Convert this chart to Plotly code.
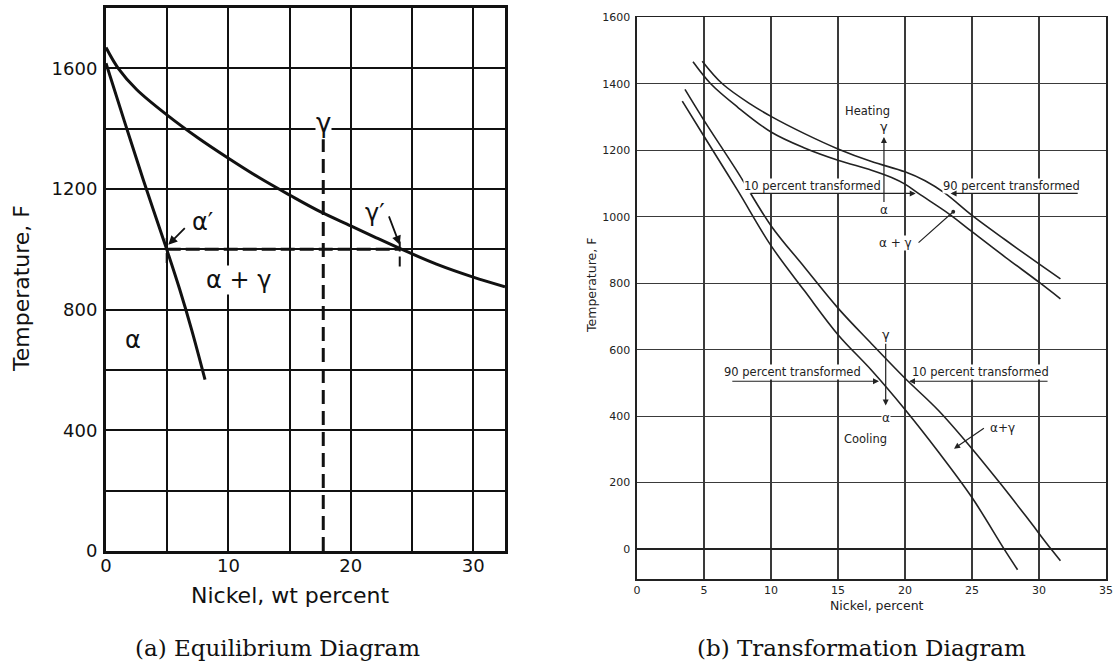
import plotly.graph_objects as go

# ---------------- data: (a) equilibrium diagram ----------------
eq_gamma_ni = [0, 1, 2.5, 5, 7.5, 10, 12.5, 15, 17.5, 20, 22, 24, 27, 30, 32.6]
eq_gamma_t = [1669, 1600, 1530, 1445, 1370, 1302, 1238, 1180, 1125, 1078, 1040, 1003, 951, 908, 876]
eq_alpha_ni = [0, 1.5, 3.05, 4.96, 6.0, 7.0, 8.09]
eq_alpha_t = [1617, 1425, 1230, 1000, 870, 733, 568]
tie_t = 1000
alpha_prime_ni = 4.96
gamma_prime_ni = 24.0
alloy_ni = 17.75
alloy_top_t = 1365

# ---------------- data: (b) transformation diagram ----------------
heat90_ni = [4.87, 6.37, 8.5, 10, 12.5, 15, 17.5, 20, 21.5, 23, 25, 27.5, 30, 31.6]
heat90_t = [1468, 1400, 1338, 1302, 1250, 1204, 1166, 1135, 1108, 1070, 1004, 930, 858, 813]
heat10_ni = [4.18, 5.5, 7.5, 10, 12.5, 15, 17.5, 19, 20, 21, 23.3, 25, 27.5, 30, 31.6]
heat10_t = [1466, 1400, 1330, 1255, 1207, 1170, 1140, 1118, 1098, 1070, 1008, 955, 878, 803, 753]
cool10_ni = [3.58, 5, 7.5, 10, 12.5, 15, 17.5, 20, 22.5, 25, 27, 29, 30.9, 31.6]
cool10_t = [1383, 1290, 1135, 973, 848, 725, 618, 514, 417, 302, 203, 100, 0, -35]
cool90_ni = [3.38, 5, 7.5, 10, 12.5, 15, 17.5, 20, 22.5, 25, 27.4, 28.4]
cool90_t = [1348, 1242, 1080, 913, 777, 645, 538, 420, 292, 155, 0, -62]

W, H = 1113, 666
SANS = "DejaVu Sans"
SERIF = "DejaVu Serif"
INK = "#111111"
INK2 = "#222222"


def px(x):
    return x / W


def py(y):
    return 1 - y / H


fig = go.Figure()

# ----- panel (a) traces -----
fig.add_trace(go.Scatter(x=eq_gamma_ni, y=eq_gamma_t, mode="lines", line=dict(color=INK, width=3, shape="spline"),
                         xaxis="x", yaxis="y"))
fig.add_trace(go.Scatter(x=eq_alpha_ni, y=eq_alpha_t, mode="lines", line=dict(color=INK, width=3, shape="spline"),
                         xaxis="x", yaxis="y"))
fig.add_trace(go.Scatter(x=[alpha_prime_ni, gamma_prime_ni], y=[tie_t, tie_t], mode="lines",
                         line=dict(color=INK, width=3, dash="14px,5px"), xaxis="x", yaxis="y"))
fig.add_trace(go.Scatter(x=[alloy_ni, alloy_ni], y=[0, alloy_top_t], mode="lines",
                         line=dict(color=INK, width=3, dash="14px,7px"), xaxis="x", yaxis="y"))
fig.add_trace(go.Scatter(x=[gamma_prime_ni, gamma_prime_ni], y=[943, 1042], mode="lines",
                         line=dict(color=INK, width=2, dash="10px,5px"), xaxis="x", yaxis="y"))
fig.add_trace(go.Scatter(x=[alpha_prime_ni, alpha_prime_ni], y=[955, 1042], mode="lines",
                         line=dict(color=INK, width=2, dash="10px,5px"), xaxis="x", yaxis="y"))

# ----- panel (b) traces -----
for xs, ys in [(heat90_ni, heat90_t), (heat10_ni, heat10_t), (cool10_ni, cool10_t), (cool90_ni, cool90_t)]:
    fig.add_trace(go.Scatter(x=xs, y=ys, mode="lines", line=dict(color=INK2, width=1.6, shape="spline"),
                             xaxis="x2", yaxis="y2"))

# ----- axes -----
fig.update_layout(
    width=W, height=H, margin=dict(l=0, r=0, t=0, b=0, pad=0), autosize=False,
    paper_bgcolor="white", plot_bgcolor="white", showlegend=False,
    xaxis=dict(domain=[px(106), px(505)], range=[0, 32.6], tickvals=[0, 10, 20, 30], automargin=False,
               showgrid=True, gridcolor=INK, gridwidth=2,
               minor=dict(dtick=5, tick0=0, showgrid=True, gridcolor=INK, gridwidth=2),
               showline=True, linecolor=INK, linewidth=3, mirror=True, zeroline=False,
               tickfont=dict(family=SANS, size=18, color=INK), ticks="", ticklabelstandoff=-4),
    yaxis=dict(domain=[py(551), py(8)], range=[0, 1800], tickvals=[0, 400, 800, 1200, 1600], automargin=False,
               showgrid=True, gridcolor=INK, gridwidth=2,
               minor=dict(dtick=200, tick0=0, showgrid=True, gridcolor=INK, gridwidth=2),
               showline=True, linecolor=INK, linewidth=3, mirror=True, zeroline=False,
               tickfont=dict(family=SANS, size=18, color=INK), ticks="", ticklabelstandoff=2),
    xaxis2=dict(domain=[px(637), px(1106)], range=[0, 35], dtick=5, tick0=0, automargin=False, anchor="y2",
                showgrid=True, gridcolor="#3a3a3a", gridwidth=1.2,
                showline=True, linecolor=INK2, linewidth=1.6, mirror=True, zeroline=False,
                tickfont=dict(family=SANS, size=11, color=INK2), ticks="", ticklabelstandoff=0),
    yaxis2=dict(domain=[py(579), py(17.3)], range=[-90, 1600], automargin=False, anchor="x2",
                tickvals=[0, 200, 400, 600, 800, 1000, 1200, 1400, 1600],
                showgrid=True, gridcolor="#3a3a3a", gridwidth=1.2,
                showline=True, linecolor=INK2, linewidth=1.6, mirror=True,
                zeroline=True, zerolinecolor=INK2, zerolinewidth=2,
                tickfont=dict(family=SANS, size=11, color=INK2), ticks="", ticklabelstandoff=3),
)

ann = []


def txt(x, y, s, size, xref="x", yref="y", bg="white", angle=0, family=SANS, color=INK):
    ann.append(dict(x=x, y=y, xref=xref, yref=yref, text=s, showarrow=False, textangle=angle,
                    xanchor="center", yanchor="middle",
                    font=dict(family=family, size=size, color=color), bgcolor=bg, borderpad=0))


def arrow(x, y, ax, ay, xref, yref, width, head=2, size=1.0, color=INK):
    ann.append(dict(x=x, y=y, ax=ax, ay=ay, xref=xref, yref=yref, axref=xref, ayref=yref, text="",
                    showarrow=True, arrowhead=head, arrowsize=size, arrowwidth=width, arrowcolor=color,
                    standoff=0, startstandoff=0))


# panel (a) labels
txt(17.75, 1418, "γ", 26)
txt(7.9, 1090, "α′", 24, bg="rgba(0,0,0,0)")
txt(22.0, 1122, "γ′", 24, bg="rgba(0,0,0,0)")
txt(10.8, 899, "α + γ", 24)
txt(2.23, 700, "α", 24, bg="rgba(0,0,0,0)")
arrow(5.09, 1015, 6.56, 1075, "x", "y", 1.8)
arrow(24.0, 1015, 23.07, 1114, "x", "y", 1.8)

# panel (b) labels
txt(17.2, 1318, "Heating", 11.5, "x2", "y2", color=INK2)
txt(18.43, 1272, "γ", 13, "x2", "y2", bg="rgba(0,0,0,0)", color=INK2)
txt(18.4, 1020, "α", 12, "x2", "y2", bg="rgba(0,0,0,0)", color=INK2)
arrow(18.43, 1240, 18.43, 1040, "x2", "y2", 1.2, color=INK2)
txt(13.1, 1093, "10 percent transformed", 11.5, "x2", "y2", color=INK2)
arrow(20.8, 1070, 8.36, 1070, "x2", "y2", 1.2, color=INK2)
txt(27.95, 1093, "90 percent transformed", 11.5, "x2", "y2", color=INK2)
arrow(23.4, 1070, 33.0, 1070, "x2", "y2", 1.2, color=INK2)
txt(19.3, 922, "α + γ", 12, "x2", "y2", color=INK2)
arrow(23.6, 1015, 20.9, 918, "x2", "y2", 1.2, head=6, size=0.8, color=INK2)

txt(18.56, 645, "γ", 13, "x2", "y2", bg="rgba(0,0,0,0)", color=INK2)
arrow(18.56, 432, 18.56, 622, "x2", "y2", 1.2, color=INK2)
txt(18.56, 394, "α", 12, "x2", "y2", color=INK2)
txt(11.6, 532, "90 percent transformed", 11.5, "x2", "y2", color=INK2)
arrow(18.06, 505, 7.0, 505, "x2", "y2", 1.2, color=INK2)
txt(25.6, 532, "10 percent transformed", 11.5, "x2", "y2", color=INK2)
arrow(20.3, 505, 30.75, 505, "x2", "y2", 1.2, color=INK2)
txt(17.07, 332, "Cooling", 11.5, "x2", "y2", color=INK2)
txt(27.3, 364, "α+γ", 12, "x2", "y2", bg="rgba(0,0,0,0)", color=INK2)
arrow(23.66, 302, 26.0, 367, "x2", "y2", 1.2, color=INK2)

# axis titles and captions
txt(px(22), py(289), "Temperature, F", 22, "paper", "paper", bg="rgba(0,0,0,0)", angle=-90)
txt(px(290), py(595), "Nickel, wt percent", 22, "paper", "paper", bg="rgba(0,0,0,0)")
txt(px(591), py(286), "Temperature, F", 12.5, "paper", "paper", bg="rgba(0,0,0,0)", angle=-90, color=INK2)
txt(px(877), py(605), "Nickel, percent", 12.5, "paper", "paper", bg="rgba(0,0,0,0)", color=INK2)
txt(px(277), py(648), "(a) Equilibrium Diagram", 23, "paper", "paper", bg="rgba(0,0,0,0)", family=SERIF)
txt(px(861), py(648), "(b) Transformation Diagram", 23, "paper", "paper", bg="rgba(0,0,0,0)", family=SERIF)

fig.update_layout(annotations=ann)
fig.write_html("out.html", config={"displayModeBar": False, "staticPlot": True},
               post_script="document.body.style.margin='0px';document.body.style.overflow='hidden';")
